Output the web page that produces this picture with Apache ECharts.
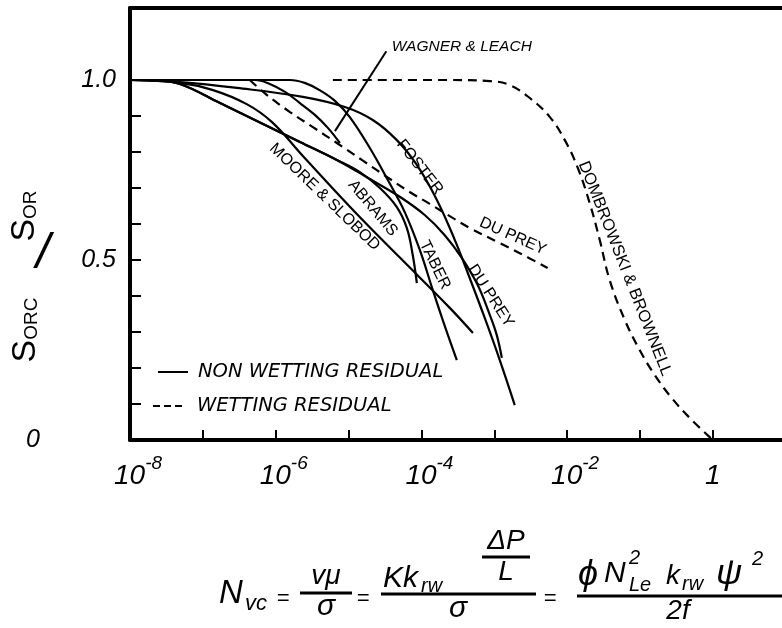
<!DOCTYPE html>
<html>
<head>
<meta charset="utf-8">
<script src="https://cdn.jsdelivr.net/npm/echarts@6/dist/echarts.min.js"></script>
<style>
html,body{margin:0;padding:0;background:#fff;}
#chart{width:782px;height:628px;}
</style>
</head>
<body>
<div id="chart"></div>
<script>
// ---------- DATA (capillary number N_vc vs S_orc/S_or) ----------
// Non-wetting residual (solid)
const mooreSlobodX = [1e-8, 4.85e-8, 1.38e-7, 4.0e-7, 8.9e-7, 2.36e-6, 1.15e-5, 5.1e-5, 2.45e-4, 5.1e-4];
const mooreSlobodY = [1.0, 0.992, 0.972, 0.933, 0.883, 0.789, 0.639, 0.506, 0.367, 0.297];

const abramsX = [1e-8, 2.2e-8, 4.85e-8, 1.72e-7, 6.7e-7, 2.15e-6, 6.9e-6, 1.43e-5, 2.69e-5, 4.6e-5, 6.3e-5, 7.6e-5, 8.65e-5];
const abramsY = [1.0, 0.999, 0.989, 0.936, 0.878, 0.828, 0.778, 0.744, 0.70, 0.647, 0.589, 0.514, 0.436];

const taberX = [1e-8, 1.57e-6, 2.5e-6, 4.0e-6, 6.5e-6, 1.04e-5, 1.96e-5, 3.46e-5, 5.9e-5, 9.5e-5, 1.43e-4, 2.09e-4, 3.06e-4];
const taberY = [1.0, 1.0, 0.992, 0.972, 0.942, 0.897, 0.811, 0.722, 0.633, 0.528, 0.417, 0.317, 0.222];

const fosterX = [1e-8, 4.85e-8, 2.94e-7, 2.36e-6, 8.9e-6, 2.15e-5, 4.6e-5, 8.65e-5, 1.63e-4, 2.87e-4, 4.6e-4, 7.4e-4, 1.19e-3, 1.91e-3];
const fosterY = [1.0, 0.994, 0.978, 0.953, 0.925, 0.889, 0.833, 0.764, 0.667, 0.556, 0.450, 0.339, 0.222, 0.097];

const duPreyNwX = [1e-8, 2.2e-8, 4.85e-8, 1.72e-7, 6.7e-7, 2.15e-6, 6.9e-6, 1.96e-5, 5.1e-5, 1.11e-4, 2.09e-4, 3.58e-4, 5.9e-4, 8.7e-4, 1.08e-3, 1.27e-3];
const duPreyNwY = [1.0, 0.999, 0.989, 0.936, 0.878, 0.828, 0.778, 0.725, 0.675, 0.625, 0.569, 0.506, 0.431, 0.347, 0.292, 0.228];

const wagnerLeachX = [1e-8, 5.2e-7, 8.3e-7, 1.34e-6, 2.15e-6, 3.45e-6, 5.2e-6, 7.6e-6];
const wagnerLeachY = [1.0, 1.0, 0.989, 0.967, 0.936, 0.903, 0.867, 0.825];

// Wetting residual (dashed)
const duPreyWX = [4.4e-7, 7.6e-7, 1.57e-6, 3.24e-6, 6.9e-6, 1.52e-5, 3.35e-5, 6.9e-5, 1.30e-4, 2.45e-4, 4.6e-4, 1.19e-3, 2.24e-3, 5.4e-3];
const duPreyWY = [1.0, 0.958, 0.911, 0.869, 0.825, 0.778, 0.731, 0.689, 0.656, 0.622, 0.589, 0.547, 0.519, 0.478];

const dombrowskiX = [6.1e-6, 2.45e-4, 8.7e-4, 1.63e-3, 3.07e-3, 5.8e-3, 9.3e-3, 1.40e-2, 2.04e-2, 2.8e-2, 3.84e-2, 6.2e-2, 9.9e-2, 0.159, 0.272, 0.512, 1.0];
const dombrowskiY = [1.0, 1.0, 0.997, 0.986, 0.95, 0.897, 0.833, 0.756, 0.658, 0.556, 0.444, 0.333, 0.25, 0.181, 0.117, 0.056, 0.0];

// Axis ticks / labels
const xLabelExponents = [-8, -6, -4, -2, 0];
const yTickValues = [0.1, 0.2, 0.3, 0.4, 0.5, 0.6, 0.7, 0.8, 0.9, 1.0];
const yLabelValues = [0, 0.5, 1.0];

// Text
const legendSolidText = 'NON WETTING RESIDUAL';
const legendDashedText = 'WETTING RESIDUAL';
const wagnerArrowFrom = [3.3e-5, 1.08];
const wagnerArrowTo = [6.5e-6, 0.858];

// ---------- CHART ----------
const FONT = '"Liberation Sans", "DejaVu Sans", Arial, sans-serif';
const WIDE = '"DejaVu Sans", "Liberation Sans", Arial, sans-serif';
const chart = echarts.init(document.getElementById('chart'), null, {renderer: 'canvas'});

function pairs(xs, ys) { return xs.map((x, i) => [x, ys[i]]); }

function curve(name, xs, ys, dashed, extra) {
  return Object.assign({
    name: name,
    type: 'line',
    data: pairs(xs, ys),
    showSymbol: false,
    symbol: 'none',
    smooth: 0.4,
    silent: true,
    lineStyle: {color: '#000', width: 2.2, type: dashed ? [9, 6] : 'solid'},
    z: 3
  }, extra || {});
}

const X_MAX = 8.9; // the plot is cut just short of 10^1 at the right edge

const option = {
  animation: false,
  backgroundColor: '#fff',
  grid: {left: 130, right: 0, top: 8, bottom: 188, show: false},
  xAxis: [{
    type: 'log', logBase: 10, min: 1e-8, max: X_MAX, splitNumber: 9,
    axisLine: {show: true, lineStyle: {color: '#000', width: 4}},
    axisTick: {show: true, inside: true, length: 10, lineStyle: {color: '#000', width: 2}},
    splitLine: {show: false},
    axisLabel: {
      margin: 14, showMaxLabel: false,
      formatter: function (v) {
        const e = Math.round(Math.log10(v));
        if (xLabelExponents.indexOf(e) < 0) return '';
        if (e === 0) return '{o|1}';
        return '{b|10}{s|' + e + '}';
      },
      rich: {
        b: {fontFamily: FONT, fontStyle: 'italic', fontSize: 28, color: '#000', padding: [8, 0, 0, 16]},
        s: {fontFamily: FONT, fontStyle: 'italic', fontSize: 19, color: '#000', verticalAlign: 'top'},
        o: {fontFamily: FONT, fontStyle: 'italic', fontSize: 28, color: '#000', padding: [8, 0, 0, 0]}
      }
    }
  }, {
    type: 'log', logBase: 10, min: 1e-8, max: X_MAX, position: 'top',
    axisLine: {show: true, lineStyle: {color: '#000', width: 4}},
    axisTick: {show: false}, axisLabel: {show: false}, splitLine: {show: false}
  }],
  yAxis: {
    type: 'value', min: 0, max: 1.2, interval: 0.1,
    axisLine: {show: true, lineStyle: {color: '#000', width: 4}},
    axisTick: {show: true, inside: true, length: 11, customValues: yTickValues, lineStyle: {color: '#000', width: 2}},
    splitLine: {show: false},
    axisLabel: {
      margin: 14,
      customValues: yLabelValues,
      formatter: function (v) {
        if (v === 0) return '{z|0}';
        return '{n|' + v.toFixed(1) + '}';
      },
      rich: {
        n: {fontFamily: FONT, fontStyle: 'italic', fontSize: 25, color: '#000'},
        z: {fontFamily: FONT, fontStyle: 'italic', fontSize: 25, color: '#000', padding: [0, 76, 0, 0]}
      }
    }
  },
  series: [
    curve('Moore & Slobod', mooreSlobodX, mooreSlobodY, false),
    curve('Abrams', abramsX, abramsY, false),
    curve('Taber', taberX, taberY, false),
    curve('Foster', fosterX, fosterY, false),
    curve('Du Prey (non-wetting)', duPreyNwX, duPreyNwY, false),
    curve('Wagner & Leach', wagnerLeachX, wagnerLeachY, false, {
      markLine: {
        silent: true, symbol: ['none', 'arrow'], symbolSize: [0, 11],
        label: {show: false},
        lineStyle: {color: '#000', width: 2, type: 'solid'},
        data: [[{coord: wagnerArrowFrom}, {coord: wagnerArrowTo}]]
      }
    }),
    curve('Du Prey (wetting)', duPreyWX, duPreyWY, true),
    curve('Dombrowski & Brownell', dombrowskiX, dombrowskiY, true)
  ]
};
chart.setOption(option);

// ---------- ANNOTATIONS (placed through the axes) ----------
const curveLabels = [
  {text: 'MOORE & SLOBOD', at: [4.7e-6, 0.675], angle: -44, size: 16},
  {text: 'ABRAMS', at: [2.15e-5, 0.644], angle: -50, size: 16},
  {text: 'TABER', at: [1.53e-4, 0.486], angle: -64, size: 16},
  {text: 'FOSTER', at: [9.5e-5, 0.758], angle: -52, size: 16},
  {text: 'DU PREY', at: [8.95e-4, 0.40], angle: -57, size: 16},
  {text: 'DU PREY', at: [1.8e-3, 0.566], angle: -24, size: 16},
  {text: 'DOMBROWSKI & BROWNELL', at: [6.2e-2, 0.476], angle: -68.5, size: 16.5},
  {text: 'WAGNER & LEACH', at: [3.58e-4, 1.092], angle: 0, size: 15.5, italic: true}
];

const graphics = [];
curveLabels.forEach(function (l) {
  const p = chart.convertToPixel({gridIndex: 0}, l.at);
  graphics.push({
    type: 'text', x: p[0], y: p[1], rotation: l.angle * Math.PI / 180, silent: true,
    style: {
      text: l.text, fill: '#000', align: 'center', verticalAlign: 'middle',
      font: (l.italic ? 'italic ' : '') + l.size + 'px ' + FONT
    }
  });
});

// Legend
graphics.push({type: 'line', silent: true, shape: {x1: 158, y1: 372, x2: 188, y2: 372}, style: {stroke: '#000', lineWidth: 2}});
graphics.push({type: 'text', silent: true, x: 198, y: 372, style: {text: legendSolidText, fill: '#000', font: 'oblique 19.5px ' + WIDE, verticalAlign: 'middle'}});
graphics.push({type: 'line', silent: true, shape: {x1: 153, y1: 406, x2: 182, y2: 406}, style: {stroke: '#000', lineWidth: 2, lineDash: [7, 4]}});
graphics.push({type: 'text', silent: true, x: 197, y: 406, style: {text: legendDashedText, fill: '#000', font: 'oblique 19.5px ' + WIDE, verticalAlign: 'middle'}});

// Y-axis title  S_ORC / S_OR  (reads bottom to top)
const titleRich = {
  S: {fontFamily: FONT, fontSize: 34, fill: '#000'},
  sub: {fontFamily: FONT, fontSize: 19, fill: '#000', verticalAlign: 'bottom', padding: [0, 0, 2, 0]}
};
graphics.push({
  type: 'text', x: 26, y: 330, rotation: Math.PI / 2, silent: true,
  style: {text: '{S|S}{sub|ORC}', align: 'center', verticalAlign: 'middle', rich: titleRich}
});
graphics.push({
  type: 'text', x: 43, y: 254, silent: true,
  style: {text: '/', fill: '#000', font: 'italic 50px ' + FONT, align: 'center', verticalAlign: 'middle'}
});
graphics.push({
  type: 'text', x: 25, y: 216, rotation: Math.PI / 2, silent: true,
  style: {text: '{S|S}{sub|OR}', align: 'center', verticalAlign: 'middle', rich: titleRich}
});

// Formula  N_vc = v mu / sigma = K k_rw (dP/L) / sigma = phi N_Le^2 k_rw psi^2 / 2f
function t(text, x, y, size, align) {
  graphics.push({type: 'text', x: x, y: y, silent: true,
    style: {text: text, fill: '#000', font: 'italic ' + size + 'px ' + FONT, align: align || 'left', verticalAlign: 'middle'}});
}
function bar(x1, x2, y) {
  graphics.push({type: 'line', silent: true, shape: {x1: x1, y1: y, x2: x2, y2: y}, style: {stroke: '#000', lineWidth: 3}});
}
t('N', 219, 594, 33);
t('vc', 245, 604, 22);
t('=', 283, 599, 22, 'center');
t('v\u03bc', 326, 576, 28, 'center');
bar(300, 352, 593);
t('\u03c3', 326, 607, 30, 'center');
t('=', 363, 599, 22, 'center');
t('Kk', 383, 579, 30);
t('rw', 421, 586, 20);
t('\u0394P', 506, 541, 28, 'center');
bar(482, 530, 557);
t('L', 506, 572, 28, 'center');
bar(381, 536, 594);
t('\u03c3', 458, 609, 30, 'center');
t('=', 550, 599, 22, 'center');
t('\u03d5', 578, 575, 36);
t('N', 604, 574, 30);
t('2', 629, 558, 20);
t('Le', 629, 585, 20);
t('k', 666, 576, 28);
t('rw', 682, 584, 20);
t('\u03c8', 716, 574, 36);
t('2', 752, 559, 20);
bar(577, 782, 596);
t('2f', 678, 611, 28, 'center');

chart.setOption({graphic: graphics});
</script>
</body>
</html>
